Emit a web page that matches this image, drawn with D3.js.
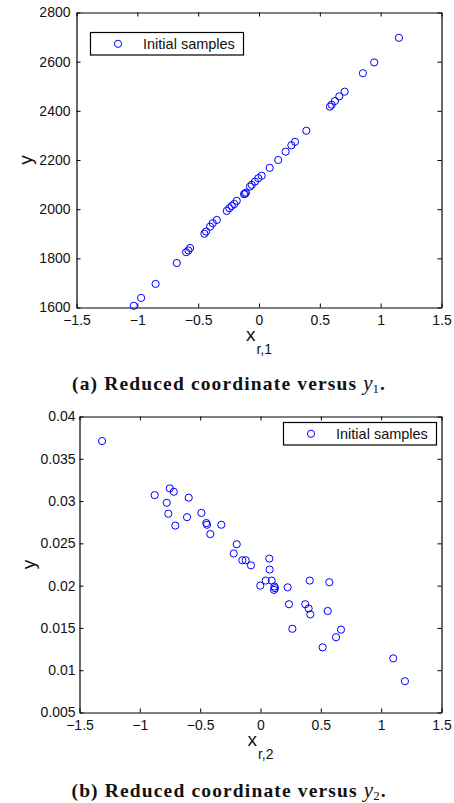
<!DOCTYPE html>
<html>
<head>
<meta charset="utf-8">
<script src="https://cdn.jsdelivr.net/npm/d3@7"></script>
<style>
  body { margin: 0; background: #fff; }
  text { font-family: "Liberation Sans", Arial, sans-serif; fill: #111; }
</style>
</head>
<body>
<div id="chart"></div>
<script>
const width = 454;
const height = 803;

// Panel (a): reduced coordinate x_r,1 versus y
const xr1 = [1.150, 0.947, 0.854, 0.704, 0.660, 0.624, 0.597, 0.583, 0.389, 0.296,
  0.266, 0.219, 0.158, 0.088, 0.022, -0.006, -0.033, -0.060, -0.074, -0.107,
  -0.115, -0.123, -0.183, -0.203, -0.224, -0.244, -0.265, -0.347, -0.380, -0.402,
  -0.435, -0.449, -0.567, -0.580, -0.599, -0.676, -0.850, -0.969, -1.029];
const y1 = [2697, 2597, 2553, 2478, 2459, 2440, 2425, 2417, 2319, 2274,
  2260, 2234, 2200, 2168, 2136, 2126, 2112, 2099, 2092, 2067,
  2063, 2061, 2034, 2021, 2013, 2004, 1993, 1956, 1943, 1929,
  1909, 1900, 1842, 1832, 1825, 1781, 1696, 1639, 1607];

// Panel (b): reduced coordinate x_r,2 versus y
const xr2 = [-1.313, -0.877, -0.752, -0.719, -0.777, -0.764, -0.706, -0.609, -0.595, -0.490,
  -0.449, -0.443, -0.416, -0.325, -0.197, -0.222, -0.151, -0.123, -0.079, 0.073,
  0.076, -0.002, 0.043, 0.093, 0.115, 0.120, 0.112, 0.225, 0.408, 0.570,
  0.236, 0.264, 0.371, 0.399, 0.413, 0.557, 0.667, 0.626, 0.515, 1.100, 1.197];
const y2 = [0.0371, 0.0307, 0.0315, 0.0311, 0.0298, 0.0285, 0.0271, 0.0281, 0.0304, 0.0286,
  0.0274, 0.0272, 0.0261, 0.0272, 0.0249, 0.0238, 0.0230, 0.0230, 0.0224, 0.0232,
  0.0219, 0.0200, 0.0206, 0.0206, 0.0199, 0.0197, 0.0195, 0.0198, 0.0206, 0.0204,
  0.0178, 0.0149, 0.0178, 0.0173, 0.0166, 0.0170, 0.0148, 0.0139, 0.0127, 0.0114, 0.0087];

// Tick values and labels
const xTicks = [-1.5, -1, -0.5, 0, 0.5, 1, 1.5];
const xTickLabels = ["\u22121.5", "\u22121", "\u22120.5", "0", "0.5", "1", "1.5"];
const yTicks1 = [1600, 1800, 2000, 2200, 2400, 2600, 2800];
const yTickLabels1 = ["1600", "1800", "2000", "2200", "2400", "2600", "2800"];
const yTicks2 = [0.005, 0.01, 0.015, 0.02, 0.025, 0.03, 0.035, 0.04];
const yTickLabels2 = ["0.005", "0.01", "0.015", "0.02", "0.025", "0.03", "0.035", "0.04"];

const legendLabel = "Initial samples";
const captions = ["(a) Reduced coordinate versus ", "(b) Reduced coordinate versus "];

const svg = d3.select("#chart")
    .append("svg")
    .attr("width", width)
    .attr("height", height);

svg.append("rect").attr("width", width).attr("height", height).attr("fill", "#fff");

function drawPanel(p) {
    const x = d3.scaleLinear().domain([-1.5, 1.5]).range([p.left, p.right]);
    const y = d3.scaleLinear().domain(p.yDomain).range([p.bottom, p.top]);
    const g = svg.append("g");

    // bottom axis with labels
    g.append("g")
        .attr("transform", `translate(0,${p.bottom})`)
        .call(d3.axisBottom(x).tickValues(xTicks)
            .tickFormat((d, i) => xTickLabels[i])
            .tickSizeInner(-4).tickSizeOuter(0).tickPadding(8))
        .call(a => a.selectAll("text").attr("font-size", 14).attr("fill", "#111"));
    // top axis, ticks only
    g.append("g")
        .attr("transform", `translate(0,${p.top})`)
        .call(d3.axisTop(x).tickValues(xTicks).tickFormat("")
            .tickSizeInner(-4).tickSizeOuter(0));
    // left axis with labels
    g.append("g")
        .attr("transform", `translate(${p.left},0)`)
        .call(d3.axisLeft(y).tickValues(p.yTicks)
            .tickFormat((d, i) => p.yTickLabels[i])
            .tickSizeInner(-4).tickSizeOuter(0).tickPadding(p.yPad))
        .call(a => a.selectAll("text").attr("font-size", 14).attr("fill", "#111"));
    // right axis, ticks only
    g.append("g")
        .attr("transform", `translate(${p.right},0)`)
        .call(d3.axisRight(y).tickValues(p.yTicks).tickFormat("")
            .tickSizeInner(-4).tickSizeOuter(0));

    g.selectAll(".domain").attr("stroke", "#000").attr("stroke-width", 1.2);
    g.selectAll(".tick line").attr("stroke", "#000");
    g.selectAll(".tick text").attr("font-family", "Liberation Sans, Arial, sans-serif");

    // points
    g.append("g")
        .selectAll("circle")
        .data(p.xs.map((d, i) => [d, p.ys[i]]))
        .enter()
        .append("circle")
        .attr("cx", d => x(d[0]))
        .attr("cy", d => y(d[1]))
        .attr("r", 3.6)
        .attr("fill", "none")
        .attr("stroke", "#0000ff")
        .attr("stroke-width", 1);

    // legend
    const lg = g.append("g").attr("transform", `translate(${p.legendX},${p.legendY})`);
    lg.append("rect")
        .attr("width", 153).attr("height", 22.5)
        .attr("fill", "#fff").attr("stroke", "#000").attr("stroke-width", 1.2);
    lg.append("circle")
        .attr("cx", 27.5).attr("cy", 11.3).attr("r", 3.6)
        .attr("fill", "none").attr("stroke", "#0000ff");
    lg.append("text")
        .attr("x", 52.5).attr("y", 16.2)
        .attr("font-size", 14.5)
        .text(legendLabel);

    // y axis label
    g.append("text")
        .attr("transform", `translate(${p.left - 45},${(p.top + p.bottom) / 2}) rotate(-90)`)
        .attr("text-anchor", "middle")
        .attr("font-size", 19)
        .text("y");

    // x axis label with subscript
    const xl = g.append("text")
        .attr("x", (p.left + p.right) / 2)
        .attr("y", p.bottom + 33.5)
        .attr("text-anchor", "middle")
        .attr("font-size", 19);
    xl.append("tspan").text("x");
    xl.append("tspan").attr("font-size", 14).attr("dx", 1).attr("dy", 12.5).text(p.sub);

    // caption
    const cap = svg.append("text")
        .attr("x", 228.5)
        .attr("y", p.capY)
        .attr("text-anchor", "middle")
        .style("font-family", "Liberation Serif, Times New Roman, serif")
        .attr("font-size", 19.5)
        .attr("fill", "#111");
    cap.append("tspan").attr("font-weight", "bold").attr("letter-spacing", 1.15).text(p.caption);
    cap.append("tspan").attr("font-style", "italic").attr("font-size", 21).text("y");
    cap.append("tspan").attr("font-size", 13).attr("dy", 3).text(p.capSub);
    cap.append("tspan").attr("font-weight", "bold").attr("dy", -3).attr("dx", 1).text(".");
}

drawPanel({
    left: 76.5, right: 441.5, top: 12.5, bottom: 307.5,
    yDomain: [1600, 2800], yTicks: yTicks1, yTickLabels: yTickLabels1, yPad: 6,
    xs: xr1, ys: y1,
    legendX: 90.5, legendY: 32.5,
    sub: "r,1", caption: captions[0], capSub: "1", capY: 389.5
});

drawPanel({
    left: 79.5, right: 441.5, top: 416.5, bottom: 712.5,
    yDomain: [0.005, 0.04], yTicks: yTicks2, yTickLabels: yTickLabels2, yPad: 4,
    xs: xr2, ys: y2,
    legendX: 283.5, legendY: 422.5,
    sub: "r,2", caption: captions[1], capSub: "2", capY: 796.5
});
</script>
</body>
</html>
